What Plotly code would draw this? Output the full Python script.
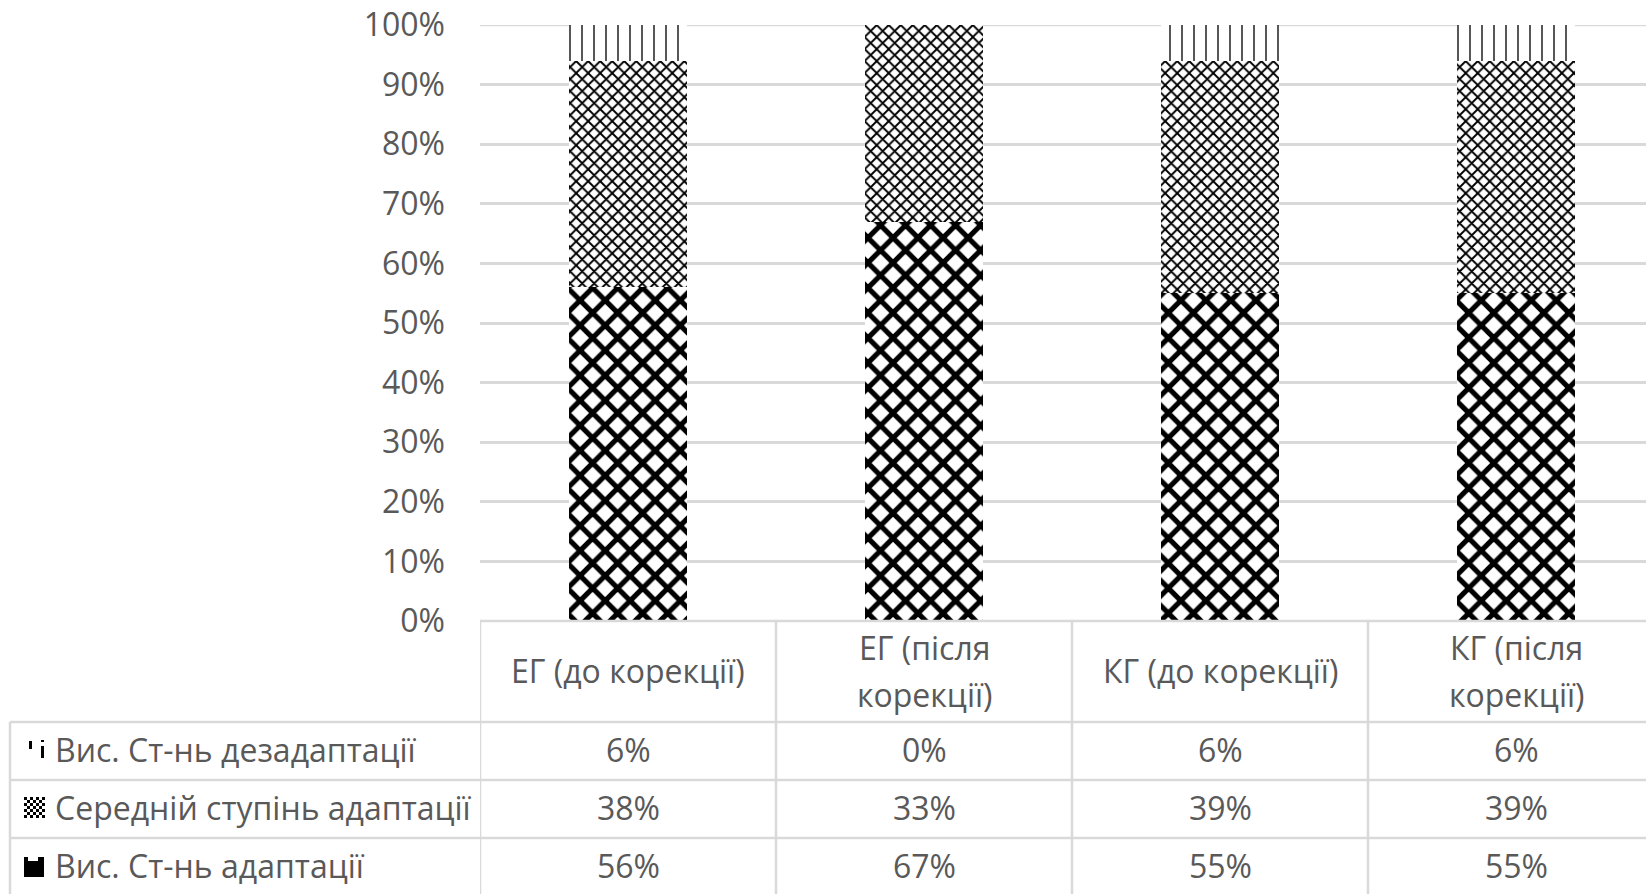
import plotly.graph_objects as go

# ---------------- data ----------------
categories = ["ЕГ (до корекції)", "ЕГ (після корекції)", "КГ (до корекції)", "КГ (після корекції)"]
header_lines = [["ЕГ (до корекції)"], ["ЕГ (після", "корекції)"], ["КГ (до корекції)"], ["КГ (після", "корекції)"]]
series_names = ["Вис. Ст-нь дезадаптації", "Середній ступінь адаптації", "Вис. Ст-нь адаптації"]
high_disadaptation = [6, 0, 6, 6]
medium_adaptation = [38, 33, 39, 39]
high_adaptation = [56, 67, 55, 55]
y_tick_values = [0, 10, 20, 30, 40, 50, 60, 70, 80, 90, 100]

# ---------------- geometry (page pixels; body margin removed below) ----------------
OFF = 0
PAGE_W, PAGE_H = 1646, 894
W, H = PAGE_W - OFF, PAGE_H - OFF
PL, PR, PT, PB = 480, 1646, 25, 621          # plot area edges in page px
CAT_W = 296                                  # category width in px
ROW_LINES = [722, 780, 838]                  # table horizontal lines
ROW_CENTERS = [749, 807, 865]
HEADER_CENTER = 670
HEADER_TWO_LINES = [647, 694]
TABLE_LEFT = 10
GRID = "#d9d9d9"
TXT = "#595959"
FONT = "Open Sans"
FS = 32

def py(p):
    return (PB - p) / (PB - PT)

def px(p):
    return (p - PL) / (PR - PL)

x_hi = -0.5 + (PR - PL) / CAT_W

fig = go.Figure()

patterns = {
    "Вис. Ст-нь адаптації": dict(shape="x", size=17.7, solidity=0.5, fg="black", bg="white"),
    "Середній ступінь адаптації": dict(shape="x", size=8.5, solidity=0.4, fg="black", bg="white"),
    "Вис. Ст-нь дезадаптації": dict(shape="|", size=12, solidity=0.11, fg="black", bg="white"),
}
series_values = {
    "Вис. Ст-нь адаптації": high_adaptation,
    "Середній ступінь адаптації": medium_adaptation,
    "Вис. Ст-нь дезадаптації": high_disadaptation,
}
for name in ["Вис. Ст-нь адаптації", "Середній ступінь адаптації", "Вис. Ст-нь дезадаптації"]:
    pat = patterns[name]
    fig.add_trace(go.Bar(
        x=categories,
        y=[v / 100 for v in series_values[name]],
        name=name,
        width=0.4,
        marker=dict(color=pat["bg"], line=dict(width=0),
                    pattern=dict(shape=pat["shape"], size=pat["size"], solidity=pat["solidity"],
                                 fgcolor=pat["fg"], bgcolor=pat["bg"], fillmode="replace")),
        showlegend=False,
    ))

fig.update_layout(
    width=W, height=H,
    margin=dict(l=PL - OFF, r=PAGE_W - PR, t=PT - OFF, b=PAGE_H - PB, pad=0, autoexpand=False),
    barmode="stack",
    plot_bgcolor="white", paper_bgcolor="white",
    font=dict(family=FONT, size=FS, color=TXT),
    xaxis=dict(range=[-0.5, x_hi], showticklabels=False, showgrid=False, zeroline=False,
               showline=False, ticks="", automargin=False),
    yaxis=dict(range=[0, 1], tickvals=[v / 100 for v in y_tick_values],
               ticktext=[f"{v}%" for v in y_tick_values], automargin=False,
               showgrid=True, gridcolor=GRID, gridwidth=2.5, zeroline=False, showline=False,
               ticks="", ticklabelstandoff=34, ticklabeloverflow="allow",
               tickfont=dict(family=FONT, size=FS, color=TXT)),
)

shapes = []
line = dict(color=GRID, width=2.5)
# gridline at 100% (top edge of plot)
shapes.append(dict(type="line", xref="paper", yref="y", x0=0, x1=1, y0=1, y1=1, line=line, layer="below"))
# top line of table (axis base)
shapes.append(dict(type="line", xref="paper", yref="paper", x0=0, x1=1, y0=py(PB), y1=py(PB), line=line))
for r in ROW_LINES:
    shapes.append(dict(type="line", xref="paper", yref="paper", x0=px(TABLE_LEFT), x1=1, y0=py(r), y1=py(r), line=line))
# vertical lines at category boundaries
for i in range(len(categories)):
    shapes.append(dict(type="line", xref="x", yref="paper", x0=i - 0.5, x1=i - 0.5,
                       y0=py(PB), y1=py(PAGE_H + 5), line=line))
shapes.append(dict(type="line", xref="paper", yref="paper", x0=px(TABLE_LEFT), x1=px(TABLE_LEFT),
                   y0=py(ROW_LINES[0]), y1=py(PAGE_H + 5), line=line))

def rect(x0, y0, x1, y1, color="black"):
    return dict(type="rect", xref="paper", yref="paper", x0=px(x0), x1=px(x1), y0=py(y1), y1=py(y0),
                fillcolor=color, line=dict(width=0))

# legend keys
shapes.append(rect(29, 741, 32, 749))
shapes.append(rect(41, 746, 44, 758))
shapes.append(rect(41, 740, 44, 742))
cs = 3
for i in range(7):
    for j in range(7):
        if (i + j) % 2 == 0:
            x0 = 24 + i * cs
            y0 = 797 + j * cs
            shapes.append(rect(x0, y0, x0 + cs, y0 + cs))
shapes.append(rect(24, 861, 44, 877))
shapes.append(rect(24, 857, 28, 861))
shapes.append(rect(38, 857, 44, 861))

annotations = []
for i, lines in enumerate(header_lines):
    ys = [HEADER_CENTER] if len(lines) == 1 else HEADER_TWO_LINES
    for txt, yy in zip(lines, ys):
        annotations.append(dict(x=categories[i], xref="x", y=py(yy), yref="paper", text=txt,
                                showarrow=False, xanchor="center", yanchor="middle",
                                font=dict(family=FONT, size=FS, color=TXT)))
rows = [high_disadaptation, medium_adaptation, high_adaptation]
for r, (name, vals) in enumerate(zip(series_names, rows)):
    annotations.append(dict(x=px(53), xref="paper", y=py(ROW_CENTERS[r]), yref="paper", text=name,
                            showarrow=False, xanchor="left", yanchor="middle",
                            font=dict(family=FONT, size=FS, color=TXT)))
    for i, v in enumerate(vals):
        annotations.append(dict(x=categories[i], xref="x", y=py(ROW_CENTERS[r]), yref="paper", text=f"{v}%",
                                showarrow=False, xanchor="center", yanchor="middle",
                                font=dict(family=FONT, size=FS, color=TXT)))

fig.update_layout(shapes=shapes, annotations=annotations)
fig.write_html("out.html", config={"displayModeBar": False},
               post_script="document.body.style.margin='0px';document.body.style.overflow='hidden';")
